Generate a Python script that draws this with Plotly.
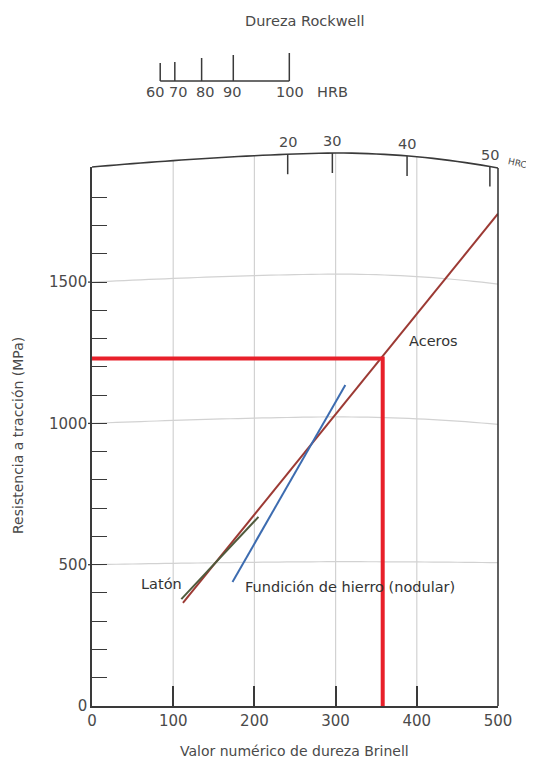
import plotly.graph_objects as go

# ---------------- data ----------------
brinell_ticks = [0, 100, 200, 300, 400, 500]
mpa_labels = [0, 500, 1000, 1500]
mpa_ticks = list(range(0, 1900, 100))

aceros_hb = [112, 500]
aceros_mpa = [365, 1742]
laton_hb = [110, 205]
laton_mpa = [378, 669]
fund_hb = [173, 312]
fund_mpa = [439, 1136]
example_hb = 358
example_mpa = 1230

hrc_vals = [20, 30, 40, 50]
hrc_hb = [241, 296, 388, 490]
hrb_vals = [60, 70, 80, 90, 100]
hrb_hb = [84, 102, 135, 174, 243]

# ---------------- geometry / style ----------------
# page pixels (the page body adds an 8px offset to the figure)
OFF = 8
PW, PH = 534, 760
L, R, TOP, BOT = 92, 498, 167, 706
YMAX = (BOT - TOP) / 141.3 * 500
FONT = "DejaVu Sans"
FRAME = "#3a3a3a"
GRID = "#d2d2d2"
TXT = "#4a4a4a"
LBL = "#333333"


def py(px):
    return (BOT - px) / (BOT - TOP)


def pxp(px):
    return (px - L) / (R - L)


def bulge(hb, amount, enddrop):
    if hb <= 300:
        return amount * (1 - ((300 - hb) / 300) ** 1.5)
    f = ((hb - 300) / 200) ** 2
    return amount * (1 - f) - enddrop * f


def curve_path(base_px, amount, enddrop):
    pts = [(i * 10, py(base_px - bulge(i * 10, amount, enddrop))) for i in range(51)]
    return "M " + " L ".join(f"{x},{y:.5f}" for x, y in pts)


def frame_top_px(hb):
    return 167 - bulge(hb, 14, 1)


fig = go.Figure()

fig.add_trace(go.Scatter(x=aceros_hb, y=aceros_mpa, mode="lines",
                         line=dict(color="#9c3a34", width=2), showlegend=False))
fig.add_trace(go.Scatter(x=laton_hb, y=laton_mpa, mode="lines",
                         line=dict(color="#4f5a3c", width=2), showlegend=False))
fig.add_trace(go.Scatter(x=fund_hb, y=fund_mpa, mode="lines",
                         line=dict(color="#3d6cb0", width=2), showlegend=False))
fig.add_trace(go.Scatter(x=[0, example_hb, example_hb], y=[example_mpa, example_mpa, 0],
                         mode="lines", line=dict(color="#e8202a", width=4),
                         showlegend=False))

shapes = []
# curved horizontal grid lines
for v, amt, dr in [(500, 3, -2), (1000, 6.5, 1), (1500, 8, 2)]:
    base = BOT - v / YMAX * (BOT - TOP)
    shapes.append(dict(type="path", xref="x", yref="paper", path=curve_path(base, amt, dr),
                       line=dict(color=GRID, width=1.2), layer="below"))
# vertical grid lines
for hb in brinell_ticks[1:-1]:
    shapes.append(dict(type="line", xref="x", yref="paper", x0=hb, x1=hb, y0=0,
                       y1=py(frame_top_px(hb)), line=dict(color=GRID, width=1.2),
                       layer="below"))
# curved top frame
shapes.append(dict(type="path", xref="x", yref="paper", path=curve_path(167, 14, 1),
                   line=dict(color=FRAME, width=1.6)))
# right frame
shapes.append(dict(type="line", xref="paper", yref="paper", x0=1, x1=1, y0=0,
                   y1=py(168), line=dict(color=FRAME, width=1.6)))
# small outward stubs of the major y ticks
for v in mpa_labels[1:]:
    shapes.append(dict(type="line", xref="paper", yref="y", x0=pxp(L - 4), x1=0,
                       y0=v, y1=v, line=dict(color=FRAME, width=1.3)))
# HRC ticks
for hb in hrc_hb:
    t = frame_top_px(hb)
    shapes.append(dict(type="line", xref="x", yref="paper", x0=hb, x1=hb,
                       y0=py(t), y1=py(t + 20), line=dict(color=FRAME, width=1.5)))
# HRB scale
HRB_BASE = 81
hrb_tick_top = {60: 63, 70: 62, 80: 58, 90: 55, 100: 53}
shapes.append(dict(type="line", xref="x", yref="paper", x0=hrb_hb[0], x1=hrb_hb[-1],
                   y0=py(HRB_BASE), y1=py(HRB_BASE), line=dict(color=FRAME, width=1.5)))
for v, hb in zip(hrb_vals, hrb_hb):
    shapes.append(dict(type="line", xref="x", yref="paper", x0=hb, x1=hb,
                       y0=py(HRB_BASE), y1=py(hrb_tick_top[v]),
                       line=dict(color=FRAME, width=1.5)))

annotations = []


def ann(text, x, y, xref="paper", yref="paper", size=14, color=TXT, **kw):
    annotations.append(dict(text=text, x=x, y=y, xref=xref, yref=yref, showarrow=False,
                            xanchor="center", yanchor="middle",
                            font=dict(family=FONT, size=size, color=color), **kw))


for v, hb in zip(hrc_vals, hrc_hb):
    ann(str(v), hb, py(frame_top_px(hb) - 12), xref="x", size=14.5)
ann("HRC", pxp(517), py(163), size=9, textangle=12)

# HRB labels (page-pixel centres)
hrb_label_px = {60: 155, 70: 178, 80: 205, 90: 232, 100: 290}
for v in hrb_vals:
    ann(str(v), pxp(hrb_label_px[v]), py(92), size=14.5)
ann("HRB", pxp(332), py(92), size=14.5)
ann("Dureza Rockwell", pxp(305), py(21), size=14.5)

ann("Aceros", 420, 1292, xref="x", yref="y", size=14.5, color=LBL)
ann("Latón", 86, 432, xref="x", yref="y", size=14.5, color=LBL)
ann("Fundición de hierro (nodular)", 318, 421, xref="x", yref="y", size=14.5, color=LBL)

# axis titles
ann("Valor numérico de dureza Brinell", pxp(294), py(751), size=14)
ann("Resistencia a tracción (MPa)", pxp(18), py(436), size=14, textangle=-90)

fig.update_layout(
    width=PW - OFF, height=PH - OFF,
    margin=dict(l=L - OFF, r=PW - R, t=TOP - OFF, b=PH - BOT, pad=0),
    paper_bgcolor="white", plot_bgcolor="white",
    shapes=shapes, annotations=annotations,
    xaxis=dict(range=[0, 500], tickvals=brinell_ticks, ticktext=[str(v) for v in brinell_ticks],
               showgrid=False, zeroline=False, showline=True, linecolor=FRAME, linewidth=1.6,
               ticks="inside", ticklen=20, tickcolor=FRAME, tickwidth=1.5,
               tickfont=dict(family=FONT, size=15, color=TXT)),
    yaxis=dict(range=[0, YMAX], tickvals=mpa_ticks,
               ticktext=[str(v) if v in mpa_labels else "" for v in mpa_ticks],
               showgrid=False, zeroline=False, showline=True, linecolor=FRAME, linewidth=1.6,
               ticks="inside", ticklen=15, tickcolor=FRAME, tickwidth=1.3,
               tickfont=dict(family=FONT, size=15, color=TXT)),
)

fig.write_html("out.html")
